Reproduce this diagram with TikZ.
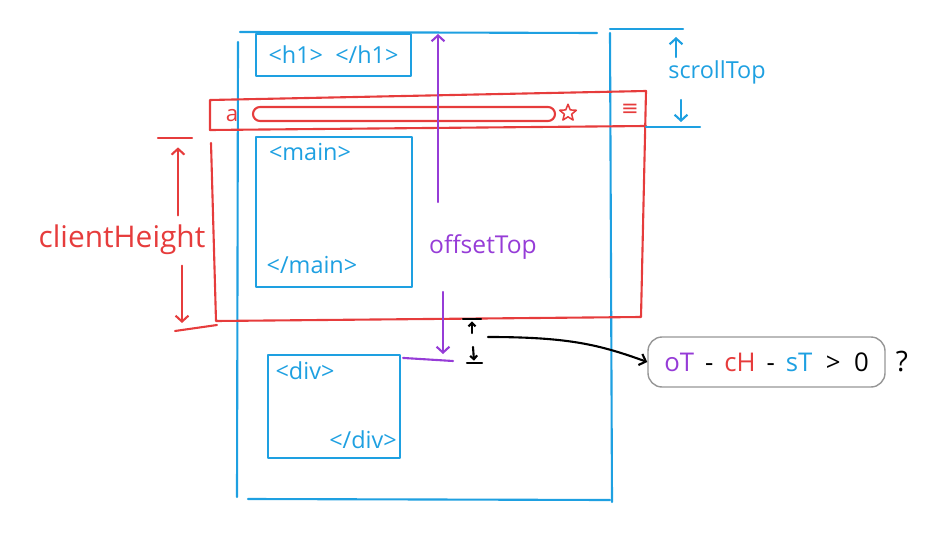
\documentclass[tikz,border=0pt]{standalone}
\usepackage{fontspec}
\setmainfont{Open Sans}
\newfontfamily\symfont{DejaVu Sans}
\usetikzlibrary{arrows.meta,fit,shapes.geometric}

\definecolor{skblue}{RGB}{30,160,225}
\definecolor{skred}{RGB}{230,60,60}
\definecolor{skpurple}{RGB}{150,60,215}
\definecolor{skgray}{RGB}{150,150,150}

\begin{document}
\begin{tikzpicture}[
    x=0.03cm, y=-0.03cm,
    line cap=round, line join=round,
    pen/.style={line width=1.8pt},
    arrow/.style={pen, -{Straight Barb[length=5pt,width=11pt]}},
    htmlbox/.style={draw=skblue, pen, inner sep=0pt},
    tag/.style={text=skblue, inner sep=0pt, font=\fontsize{20}{20}\selectfont},
    label/.style={inner sep=1pt, font=\fontsize{21}{21}\selectfont}
]
\useasboundingbox (0,0) rectangle (928,539);

% Document (bleu)
\draw[skblue, pen] (240,32) -- (597,33);
\draw[skblue, pen] (238,42) -- (237,497);
\draw[skblue, pen] (248,499) -- (610,500);
\draw[skblue, pen] (610,33) -- (612,502);

% Balises
\node[htmlbox, fit={(256,34) (411,76)}] (h1box) {};
\node[tag] (h1tag) at (h1box.center) {<h1> \ </h1>};
\node[htmlbox, fit={(256,137) (412,287)}] (mainbox) {};
\node[tag] (mainopen) at (310,152) {<main>};
\node[tag] (mainclose) at (312,265) {</main>};
\node[htmlbox, fit={(268,355) (400,458)}] (divbox) {};
\node[tag] (divopen) at (305,371) {<div>};
\node[tag] (divclose) at (363,440) {</div>};

% Fenetre du navigateur (rouge)
\draw[skred, pen] (210,130) -- (210,100) -- (646,91);
\draw[skred, pen] (210,130) -- (646,126);
\draw[skred, pen] (646,91) -- (641,317) -- (216,321) -- (211,143);
\draw[skred, pen, rounded corners=6pt] (253,107) rectangle (555,121);
\node[text=skred, inner sep=0pt, font=\fontsize{19}{19}\selectfont] (aicon) at (232,116) {a};
\node[star, star points=5, star point ratio=2.3, draw=skred, line width=1.3pt,
      minimum size=15pt, inner sep=0pt] (staricon) at (568,113) {};
\node[text=skred, inner sep=0pt, font=\symfont\fontsize{18}{18}\selectfont] (menuicon) at (630,110) {≡};

% scrollTop
\coordinate (sttop) at (610,29);
\coordinate (stbot) at (646,127);
\draw[skblue, pen] (sttop) -- ++(73,0);
\draw[skblue, pen] (stbot) -- ++(54,0);
\node[label, text=skblue, font=\fontsize{20}{20}\selectfont] (stlabel) at (717,72) {scrollTop};
\draw[arrow, skblue] (676,57) -- (676,37);
\draw[arrow, skblue] (681,100) -- (681,122);

% clientHeight
\coordinate (chtop) at (178,138);
\coordinate (chbot) at (182,330);
\draw[skred, pen] (158,138) -- (192,138);
\draw[skred, pen] (175,331) -- (217,325);
\node[label, text=skred, font=\fontsize{25.5}{26}\selectfont] (chlabel) at (122,240) {clientHeight};
\draw[arrow, skred] ([yshift=7pt]chlabel.north -| chtop) -- ([yshift=-8pt]chtop);
\draw[arrow, skred] ([yshift=-8pt]chlabel.south -| chbot) -- ([yshift=6pt]chbot);

% offsetTop
\coordinate (ottop) at (438,34);
\coordinate (otbot) at (443,354);
\node[label, text=skpurple] (otlabel) at (483,247) {offsetTop};
\draw[arrow, skpurple] (438,202) -- (ottop);
\draw[arrow, skpurple] (443,292) -- (otbot);
\draw[skpurple, pen] (divbox.north east) ++(2,4) -- (453,361);

% Ecart restant
\coordinate (gaptop) at (472,319);
\coordinate (gapbot) at (474,363);
\coordinate (gapmid) at (488,337);
\draw[pen] (gaptop) ++(-9,0) -- ++(18,0);
\draw[pen] (gapbot) ++(-7,0) -- ++(15,0);
\draw[pen, -{Straight Barb[length=3pt,width=6pt]}] (472,333) -- ([yshift=-2pt]gaptop);
\draw[pen, -{Straight Barb[length=3pt,width=6pt]}] (473,347) -- ([yshift=2pt]gapbot);

% Condition
\node[draw=skgray, line width=1.2pt, rounded corners=12pt, fit={(648,337) (885,387)}, inner sep=0pt] (formula) {};
\node[inner sep=0pt, font=\fontsize{22}{22}\selectfont] (formtext) at (formula.center)
  {\textcolor{skpurple}{oT} \,-\, \textcolor{skred}{cH} \,-\, \textcolor{skblue}{sT} \ > \ 0};
\node[inner sep=0pt, font=\fontsize{24}{24}\selectfont] (question) at (902,362) {?};
\draw[pen, -{Straight Barb[length=5pt,width=10pt]}] (gapmid) .. controls (570,337) and (600,345) .. (formula.west);

\end{tikzpicture}
\end{document}
